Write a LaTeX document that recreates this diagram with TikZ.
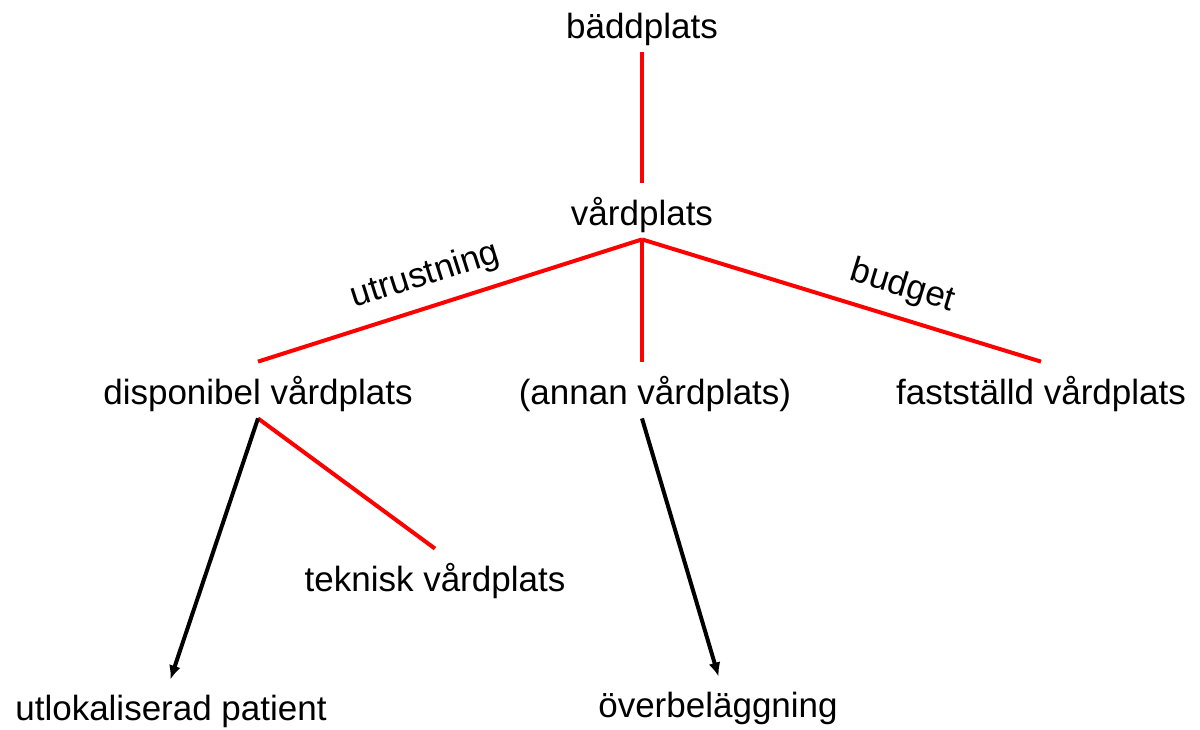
\documentclass[tikz,border=0pt]{standalone}
\usepackage{fontspec}
\setmainfont{Liberation Sans}
\usetikzlibrary{arrows.meta}
\begin{document}
\begin{tikzpicture}[x=0.5pt,y=-0.5pt,
    term/.style={anchor=base,inner xsep=2pt,inner ysep=3pt,text height=18pt,text depth=4pt,
                 font=\fontsize{17.5}{21}\selectfont},
    redline/.style={draw=red,line width=2pt},
    blackarrow/.style={draw=black,line width=2pt,-{Latex[length=7pt,width=6pt]},shorten >=-1pt},
    edgelabel/.style={sloped,above=3pt,font=\fontsize{17.5}{21}\selectfont}]
    \useasboundingbox (0,0) rectangle (1200,729);
    % Define os termos
    \node[term] (badd) at (642,38) {bäddplats};
    \node[term] (vard) at (642,225) {vårdplats};
    \node[term] (disp) at (258,404) {disponibel vårdplats};
    \node[term] (annan) at (655,404) {(annan vårdplats)};
    \node[term] (fast) at (1041,404) {fastställd vårdplats};
    \node[term] (tekn) at (435,591) {teknisk vårdplats};
    \node[term] (utlok) at (171,720) {utlokaliserad patient};
    \node[term] (overb) at (718,717) {överbeläggning};
    % Conecta termos
    \draw[redline] (badd.south) -- (vard.north);
    \draw[redline] (vard.south) -- node[edgelabel,pos=0.54] {utrustning} (disp.north);
    \draw[redline] (vard.south) -- (annan.north -| vard.south);
    \draw[redline] (vard.south) -- node[edgelabel,pos=0.63] {budget} (fast.north);
    \draw[redline] (disp.south) -- (tekn.north);
    \draw[blackarrow] (disp.south) -- (utlok.north);
    \draw[blackarrow] (annan.south -| vard.south) -- (overb.north);
\end{tikzpicture}
\end{document}
